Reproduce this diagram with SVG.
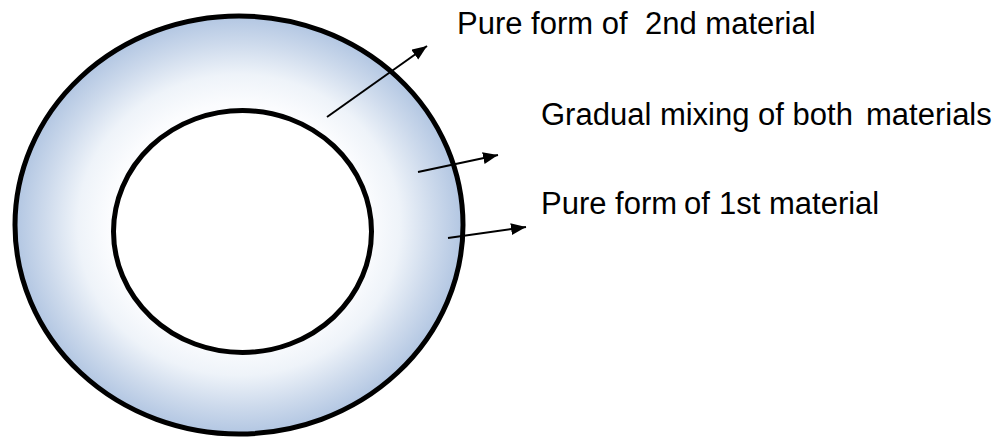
<svg xmlns="http://www.w3.org/2000/svg" width="1004" height="439" viewBox="0 0 1004 439">
  <style>
    .ring { stroke: #000; stroke-width: 5; }
    .label { font-family: "Liberation Sans", Arial, sans-serif; font-size: 31px; fill: #000; }
    .conn { stroke: #000; stroke-width: 2; fill: none; marker-end: url(#arrow); }
  </style>
  <defs>
    <radialGradient id="grad" cx="0.5" cy="0.5" r="0.5">
      <stop offset="0" stop-color="#ffffff"/>
      <stop offset="0.58" stop-color="#fbfcfe"/>
      <stop offset="0.72" stop-color="#eef3f9"/>
      <stop offset="0.87" stop-color="#cddaec"/>
      <stop offset="1" stop-color="#b2c6e2"/>
    </radialGradient>
    <marker id="arrow" markerUnits="userSpaceOnUse" markerWidth="16" markerHeight="13" refX="15" refY="6" orient="auto">
      <path d="M0,0 L15,6 L0,12 z" fill="#000"/>
    </marker>
  </defs>
  <g id="outer-ring">
    <ellipse cx="239" cy="225" rx="224" ry="209" fill="url(#grad)" class="ring"/>
  </g>
  <g id="inner-core">
    <ellipse cx="242.5" cy="231.5" rx="129" ry="121" fill="#ffffff" class="ring" stroke-width="4.5"/>
  </g>
  <g id="connectors">
    <line class="conn" x1="327" y1="117" x2="427" y2="46"/>
    <line class="conn" x1="418" y1="172" x2="498" y2="155"/>
    <line class="conn" x1="448" y1="238" x2="526" y2="227"/>
  </g>
  <g id="label-2nd">
    <text class="label" y="34"><tspan x="457">Pure form of</tspan><tspan x="645">2nd material</tspan></text>
  </g>
  <g id="label-mixing">
    <text class="label" y="125"><tspan x="541">Gradual mixing of both</tspan><tspan x="866">materials</tspan></text>
  </g>
  <g id="label-1st">
    <text class="label" y="214"><tspan x="541">Pure form</tspan><tspan x="684">of</tspan><tspan x="719">1st material</tspan></text>
  </g>
</svg>
